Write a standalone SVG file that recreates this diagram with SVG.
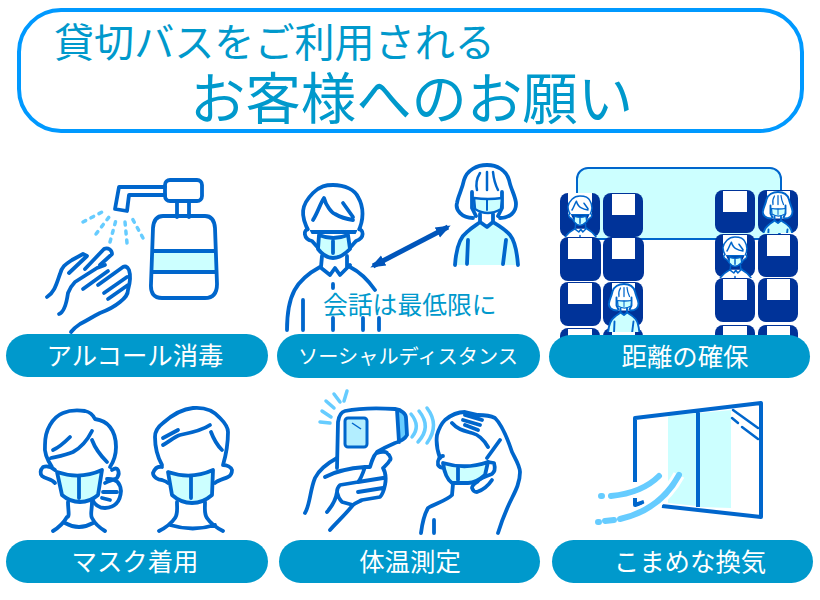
<svg xmlns="http://www.w3.org/2000/svg" width="820" height="600" viewBox="0 0 820 600">
<style>
text{font-family:"Noto Sans CJK JP","Liberation Sans",sans-serif}
.t{fill:#0099cc;font-weight:400}
.p{fill:#0099cc}
.w{fill:#fff;text-anchor:middle;font-size:25.4px;font-weight:400}
.l{fill:none;stroke:#0066cc;stroke-width:3.8;stroke-linecap:round;stroke-linejoin:round}
.f{fill:#ccffff}
.m{fill:#ccffff;stroke:#0066cc;stroke-width:3.8;stroke-linejoin:round}
.wf{fill:#fff;stroke:#0066cc;stroke-width:3.8;stroke-linejoin:round}
.s{fill:none;stroke:#66ccff;stroke-width:3.5;stroke-linecap:round}
.d{stroke-dasharray:3 6}
.seat{fill:#003399}
.win{fill:#fff}
</style>
<defs>
<g id="man">
<path class="wf" d="M320,267C296,280 287,295 287,330H379L375,290C368,278 358,272 350,267Z" style="stroke:none"/>
<path class="wf" d="M309,232C300,215 301,205 313,193C320,186 326,185 333,185C345,185 355,190 358,197C364,207 364,220 358,232Z"/>
<path class="wf" d="M309,229C303,229 303,239 312,241L320,250M358,229C364,229 365,238 356,241L348,250"/>
<path class="l" d="M313,220C318,212 320,204 324,198C326,206 332,213 335,214C340,217 346,219 353,220M343,203L353,217"/>
<path class="m" d="M319,235Q333,241 348,235L350,249Q341,258 333,258Q325,258 318,249Z"/>
<path class="l" d="M333,241V253M322,256L321,267M347,256L347,267M320,267L330,275L335,268L340,275L350,265M320,267C296,280 287,295 287,330M350,267C360,272 368,280 375,290M303,300V330M333,284V288M333,318V330M363,318V330M379,318V330"/>
</g>
<g id="woman">
<path class="m" d="M455,265C456,250 460,237 467,232C472,227 478,224 480,222L487,227L493,222C498,225 505,229 510,235C514,240 517,252 518,265Z" style="stroke:none"/>
<path class="wf" style="stroke:none" d="M473,218C462,218 455,210 457,203C458,196 462,190 464,180C467,170 477,165 487,165C497,165 506,170 509,180C511,190 516,197 516,204C516,212 510,218 500,218Z"/>
<path class="l" d="M473,218C462,218 455,210 457,203C458,196 462,190 464,180C467,170 477,165 487,165C497,165 506,170 509,180C511,190 516,197 516,204C516,212 510,218 500,218M472,192V208L476,216M502,192V208L498,216"/>
<path class="l" style="stroke-width:2.5" d="M480,173Q475,181 477,190M487,172V190M493,172Q494,182 498,190"/>
<path class="m" style="stroke-width:2.5" d="M474,198Q488,200 502,198L501,209Q494,213 488,213Q481,213 475,209Z"/>
<path class="l" d="M480,214V222L487,227L493,222V214M455,265C456,250 460,237 467,232C472,227 478,224 480,222M493,222C498,225 505,229 510,235C514,240 517,252 518,265M468,240L467,264M506,240L503,264"/>
<path class="l" style="stroke-width:2" d="M487,199V210"/>
</g>
<marker id="ah" viewBox="0 0 10 10" refX="8" refY="5" markerWidth="3" markerHeight="3" orient="auto-start-reverse"><path d="M0,1.2L10,5L0,8.8Z" fill="#0055bb"/></marker>
<clipPath id="c1"><rect x="560" y="193" width="40" height="44"/></clipPath>
<clipPath id="c2"><rect x="715" y="234" width="40" height="44"/></clipPath>
<clipPath id="c3"><rect x="758" y="190" width="40" height="43"/></clipPath>
<clipPath id="c4"><rect x="603" y="282" width="40" height="50"/></clipPath>
</defs>

<g id="header">
<rect x="19" y="10" width="783" height="121" rx="42" fill="#fff" stroke="#0099ff" stroke-width="4"/>
<text class="t" x="54" y="57" font-size="40.1">貸切バスをご利用される</text>
<text class="t" x="190" y="119" font-size="55.4">お客様へのお願い</text>
</g>

<g id="sanitizer">
<rect class="l" x="165" y="180" width="37" height="21" rx="5"/>
<path class="l" d="M165,187H119L115,209L127,211L129,195H165M177,201V217M189,201V217"/>
<path class="f" d="M153,251H215L216,272H152Z"/>
<path class="l" d="M163,216H205Q214,216 215,228L217,284Q217,298 205,298H162Q150,298 151,284L153,228Q154,216 163,216ZM153,251H215M152,272H216"/>
<path class="s d" d="M83,222L104,211M96,234L109,217M110,242L116,220M127,243L125,222M143,238L132,218"/>
<path class="l" d="M47,297C55,292 57,282 60,274C62,266 66,264 72,260L83,254L87,256L69,273M85,269L104,249C108,247 112,250 112,254L100,265"/>
<path class="l" d="M59,314C65,312 67,300 68,293C70,288 72,285 75,282L97,268L105,265M71,332C74,328 77,326 80,324C88,320 92,317 100,313C108,310 114,307 120,302C125,298 128,295 128,290C130,283 131,276 129,270C127,266 125,266 123,267L98,285M83,289L108,271M104,293L127,277M108,299L128,285"/>
</g>

<g id="distance">
<use href="#man"/>
<use href="#woman"/>
<path d="M373,266L448,227" stroke="#0055bb" stroke-width="5" marker-start="url(#ah)" marker-end="url(#ah)" fill="none"/>
<text x="323" y="314" font-size="24.8" class="t">会話は最低限に</text>
</g>

<g id="seats">
<rect x="577" y="168" width="204" height="71" rx="11" fill="#ccffff" stroke="#0066cc" stroke-width="2"/>
<g class="seat">
<rect x="560" y="193" width="40" height="44" rx="8"/><rect x="603" y="193" width="40" height="44" rx="8"/>
<rect x="560" y="237" width="41" height="44" rx="8"/><rect x="603" y="237" width="41" height="44" rx="8"/>
<rect x="560" y="282" width="41" height="44" rx="8"/><rect x="603" y="282" width="40" height="44" rx="8"/>
<rect x="560" y="328" width="40" height="20" rx="8"/><rect x="603" y="328" width="40" height="20" rx="8"/>
<rect x="715" y="190" width="40" height="43" rx="8"/><rect x="758" y="190" width="40" height="43" rx="8"/>
<rect x="715" y="234" width="40" height="43" rx="8"/><rect x="758" y="234" width="40" height="43" rx="8"/>
<rect x="715" y="278" width="40" height="44" rx="8"/><rect x="758" y="278" width="40" height="44" rx="8"/>
<rect x="715" y="325" width="40" height="20" rx="8"/><rect x="758" y="325" width="40" height="20" rx="8"/>
</g>
<g class="win">
<rect x="568" y="193" width="24" height="22"/><rect x="612" y="194" width="23" height="21"/>
<rect x="568" y="238" width="24" height="21"/><rect x="612" y="238" width="23" height="21"/>
<rect x="568" y="283" width="24" height="21"/><rect x="612" y="283" width="23" height="21"/>
<rect x="568" y="329" width="24" height="21"/><rect x="612" y="329" width="23" height="21"/>
<rect x="723" y="191" width="24" height="21"/><rect x="767" y="191" width="23" height="21"/>
<rect x="723" y="235" width="24" height="21"/><rect x="767" y="235" width="23" height="21"/>
<rect x="723" y="279" width="24" height="21"/><rect x="767" y="279" width="23" height="21"/>
<rect x="723" y="326" width="24" height="21"/><rect x="767" y="326" width="23" height="21"/>
</g>
<g clip-path="url(#c1)"><use href="#man" transform="translate(446.8,122) scale(.4)"/></g>
<g clip-path="url(#c2)"><use href="#man" transform="translate(601.8,163) scale(.4)"/></g>
<g clip-path="url(#c3)"><use href="#woman" transform="translate(534.5,109.5) scale(.5)"/></g>
<g clip-path="url(#c4)"><use href="#woman" transform="translate(380.5,201.5) scale(.5)"/></g>
</g>

<g id="mask-wearing">
<path class="l" d="M107,479Q120,478 121,491Q120,507 105,508Q96,508 92,499M103,492H117M102,498L110,500"/>
<path class="l" d="M52,467C46,458 44,452 45,445C45,436 47,430 50,425C54,418 58,415 63,413C70,410 78,410 85,411C90,412 93,415 95,419C102,420 107,423 110,427C114,432 116,439 116,447C116,455 114,461 110,467M51,458C60,456 66,455 73,452C82,447 88,439 92,431M92,440C95,448 101,456 107,462M53,450C60,447 65,442 70,437M55,470C50,466 46,466 43,467C40,470 40,474 42,476C46,479 52,479 55,483M112,470C115,468 117,468 118,470C120,474 118,476 117,478C114,480 108,481 105,483"/>
<path class="m" d="M57,472Q80,480 102,470L98,495Q90,502 80,502Q70,502 62,495Z"/>
<path class="l" d="M79,477V498M68,502C68,510 70,517 67,517C63,524 58,528 53,531M92,502C92,510 90,515 92,518C95,524 100,528 105,531M65,523Q79,531 93,523"/>
<path class="l" d="M162,465C157,456 155,448 155,437C155,431 159,426 163,423C172,415 182,409 193,408C205,407 214,411 220,418C225,423 228,427 228,432C228,442 226,455 223,465M163,445C170,441 174,437 180,435C190,433 203,430 210,425M163,438L178,430M211,432C214,440 218,446 222,450M162,467C158,466 155,468 153,473C153,477 158,480 162,480C165,481 167,482 168,483M223,465C227,465 231,467 232,470C232,474 230,476 228,477C224,479 218,480 215,483"/>
<path class="m" d="M168,472Q191,480 213,470L212,495Q203,503 192,503Q181,503 172,495Z"/>
<path class="l" d="M191,477V498M177,502C177,510 178,514 175,518C171,524 165,528 159,531M205,502C205,510 204,514 207,518C211,524 217,528 223,531M170,525Q193,532 215,525"/>
</g>

<g id="temperature">
<path d="M397,410L401,411L406,418L407,435L399,442Z" fill="#66ccff"/>
<path class="l" d="M337,468L338,422C339,415 341,412 345,411C360,408 380,408 395,409C402,410 406,414 406,418L407,435C405,439 402,441 395,443C388,446 382,449 377,452M397,410L399,442"/>
<rect x="345" y="418" width="22" height="29" rx="3" fill="#b3eeff" stroke="#0066cc" stroke-width="3"/>
<path d="M352,423L361,429" stroke="#0066cc" stroke-width="1.5"/>
<path class="s" d="M320,422L330,423M322,411L331,417M326,401L334,408M334,394L340,402M347,391L344,401M411,414Q421,426 412,437M419,411Q432,427 418,442M427,408Q440,425 427,443"/>
<path class="l" d="M337,458C326,464 319,470 315,478C310,490 310,505 305,513M325,477C338,470 352,468 365,467L370,467C372,460 375,453 377,453C382,451 387,452 387,453C391,456 391,460 390,460C388,464 385,466 383,468C386,473 386,480 385,485C384,490 382,495 380,497L362,500C358,502 355,503 353,505C345,515 336,523 330,530M365,467C363,473 360,480 358,482L340,485C338,487 337,489 337,492C338,497 340,500 342,502L353,505M327,512C333,505 336,500 337,492M358,482L383,478M358,492L383,488"/>
<path class="l" d="M440,458C437,450 436,442 437,435C439,428 441,424 445,420C451,415 458,412 465,412L478,415C486,415 491,416 495,418C503,426 508,440 512,452C516,460 520,466 520,472C520,482 516,490 512,498C507,508 502,520 498,533M500,440L487,458M465,415L482,420M463,420L480,425M465,425L478,430M452,423C458,430 465,431 472,433C480,435 484,440 488,447"/>
<path class="l" d="M443,456C440,456 437,460 438,465C440,468 442,468 444,468M488,462L494,463C496,470 494,472 492,474C486,476 480,478 477,482C474,484 472,486 472,488C473,491 475,492 477,492C483,490 488,486 492,480"/>
<path class="m" d="M443,463Q466,470 488,462L485,475Q476,483 468,483H452Q445,478 443,463Z"/>
<path class="l" d="M458,468V480M453,484L452,495C446,501 436,503 428,508C424,515 422,525 421,533M434,520V533"/>
</g>

<g id="ventilation">
<path class="f" d="M668,415L696,413V506L668,503ZM700,413L731,410V508L700,507Z"/>
<path class="l" d="M635,482V418L761,403V517L662,506M635,498V505L644,502M698,412V507" style="stroke-width:4;stroke-linecap:butt"/>
<path d="M733,410L758,428M732,418L738,423M742,427L758,439" class="l" style="stroke-width:2.5"/>
<path d="M611,496Q642,493 659,476M620,519Q660,510 679,475" fill="none" stroke="#fff" stroke-width="12"/>
<path class="s" style="stroke-width:6" d="M611,496Q642,493 659,476M620,519Q660,510 679,475M605,521L614,520M601,496H602M598,522H599"/>
</g>

<g id="labels">
<rect class="p" x="6" y="334" width="262" height="43" rx="21.5"/>
<text class="w" x="135" y="365">アルコール消毒</text>
<rect class="p" x="277" y="334" width="263" height="44" rx="22"/>
<text class="w" x="408" y="364" style="font-size:20.2px">ソーシャルディスタンス</text>
<rect class="p" x="549" y="335" width="261" height="43" rx="21.5"/>
<text class="w" x="685" y="366">距離の確保</text>
<rect class="p" x="6" y="540" width="262" height="43" rx="21.5"/>
<text class="w" x="135" y="571">マスク着用</text>
<rect class="p" x="279" y="540" width="261" height="43" rx="21.5"/>
<text class="w" x="410" y="571">体温測定</text>
<rect class="p" x="552" y="540" width="261" height="43" rx="21.5"/>
<text class="w" x="690" y="571">こまめな換気</text>
</g>
</svg>
